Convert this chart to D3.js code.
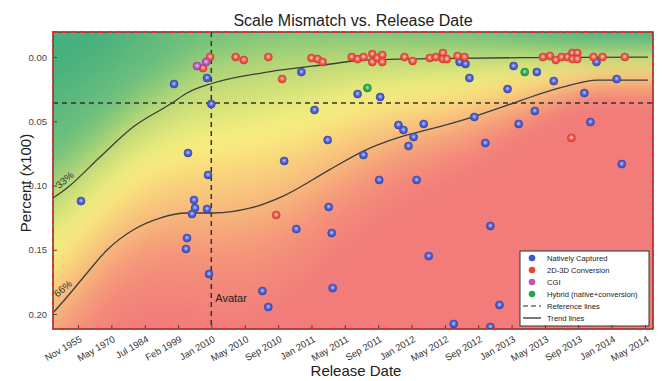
<!DOCTYPE html>
<html>
<head>
<meta charset="utf-8">
<script src="https://cdn.jsdelivr.net/npm/d3@7"></script>
<style>
  body { margin: 0; background: #fff; }
  svg { font-family: "Liberation Sans", Arial, sans-serif; }
</style>
</head>
<body>
<div class="chart"></div>
<script>
// Tick positions (decimal years) and their labels, spaced evenly on the axis
var tickYears = [1955.83, 1970.33, 1984.5, 1999.08, 2010.0, 2010.33, 2010.67, 2011.0, 2011.33,
    2011.67, 2012.0, 2012.33, 2012.67, 2013.0, 2013.33, 2013.67, 2014.0, 2014.33];
var tickLabels = ["Nov 1955", "May 1970", "Jul 1984", "Feb 1999", "Jan 2010", "May 2010", "Sep 2010",
    "Jan 2011", "May 2011", "Sep 2011", "Jan 2012", "May 2012", "Sep 2012", "Jan 2013", "May 2013",
    "Sep 2013", "Jan 2014", "May 2014"];
var yTicks = [0, 0.05, 0.10, 0.15, 0.20];

// Reference lines
var refValue = 0.0358;
var refYear = 2009.96; // Avatar

// Trend lines [year, percent]
var trend33 = [[1944.96, 0.1097], [1951.05, 0.1019], [1965.4, 0.0778], [1979.53, 0.0545],
    [1996.44, 0.0358], [2002.01, 0.0280], [2010.02, 0.0202], [2010.56, 0.0117], [2011.19, 0.0054],
    [2011.52, 0.0023], [2012.19, 0.0012], [2013.19, 0.0004], [2014.36, 0.0]];
var trend66 = [[1944.96, 0.1992], [1951.05, 0.1868], [1959.74, 0.1681], [1968.44, 0.1502],
    [1979.53, 0.1346], [1991.19, 0.1253], [2002.01, 0.1214], [2010.02, 0.1214], [2010.39, 0.1175],
    [2010.72, 0.1082], [2011.19, 0.0872], [2011.52, 0.0732], [2011.86, 0.0630], [2012.19, 0.0560],
    [2012.52, 0.0490], [2013.02, 0.0358], [2013.19, 0.0311], [2013.52, 0.0233], [2013.86, 0.0179],
    [2014.36, 0.0179]];

// Films [release year, scale mismatch]
var natively = [[1957.13, 0.1121], [1997.31, 0.0210], [2008.56, 0.0163], [2009.96, 0.0366],
    [2002.34, 0.0747], [2008.89, 0.0918], [2004.30, 0.1113], [2004.63, 0.1175], [2003.65, 0.1222],
    [2008.56, 0.1183], [2002.01, 0.1409], [2001.68, 0.1494], [2009.21, 0.1689], [2010.51, 0.1821],
    [2010.57, 0.1946], [2010.73, 0.0809], [2010.85, 0.1339], [2010.90, 0.0117], [2011.03, 0.0412],
    [2011.16, 0.0646], [2011.17, 0.1167], [2011.20, 0.1370], [2011.21, 0.1798], [2011.46, 0.0288],
    [2011.52, 0.0763], [2011.68, 0.0957], [2011.69, 0.0311], [2011.87, 0.0529], [2011.92, 0.0568],
    [2011.97, 0.0693], [2012.02, 0.0623], [2012.05, 0.0957], [2012.12, 0.0521], [2012.17, 0.1549],
    [2012.42, 0.2078], [2012.48, 0.0039], [2012.54, 0.0054], [2012.58, 0.0163], [2012.63, 0.0467],
    [2012.74, 0.0669], [2012.79, 0.1315], [2012.79, 0.2101], [2012.88, 0.1930], [2012.96, 0.0249],
    [2013.02, 0.0070], [2013.07, 0.0521], [2013.23, 0.0420], [2013.25, 0.0117], [2013.42, 0.0187],
    [2013.73, 0.0280], [2013.79, 0.0506], [2013.85, 0.0039], [2014.05, 0.0171], [2014.10, 0.0833]];
var conversion = [[2007.25, 0.0086], [2009.54, 0.0], [2010.24, 0.0], [2010.32, 0.0023],
    [2010.57, 0.0], [2010.71, 0.0171], [2011.00, 0.0008], [2011.06, 0.0016], [2011.11, 0.0039],
    [2011.40, 0.0], [2011.46, 0.0016], [2011.52, 0.0], [2011.61, -0.0023], [2011.61, 0.0039],
    [2011.66, 0.0008], [2011.71, -0.0016], [2011.71, 0.0039], [2011.93, 0.0], [2012.01, 0.0031],
    [2012.18, 0.0008], [2012.24, 0.0], [2012.31, -0.0031], [2012.31, 0.0016], [2012.35, 0.0016],
    [2012.46, -0.0008], [2012.53, 0.0], [2013.31, 0.0], [2013.38, -0.0008], [2013.44, 0.0023],
    [2013.50, 0.0], [2013.56, 0.0], [2013.61, -0.0031], [2013.61, 0.0016], [2013.66, -0.0031],
    [2013.66, 0.0016], [2013.82, 0.0], [2013.91, 0.0], [2014.13, 0.0], [2013.60, 0.0630],
    [2010.65, 0.1230]];
var cgi = [[2005.28, 0.0070], [2008.23, 0.0039]];
var hybrid = [[2011.56, 0.0241], [2013.13, 0.0117]];

// SVG area
var svgWidth = 662;
var svgHeight = 381;
var chartMargin = { top: 32, right: 9, bottom: 52, left: 53 };
var width = svgWidth - chartMargin.left - chartMargin.right;
var height = svgHeight - chartMargin.top - chartMargin.bottom;

var svg = d3.select(".chart").append("svg")
    .attr("width", svgWidth)
    .attr("height", svgHeight);
var defs = svg.append("defs");

var chart = svg.append("g")
    .attr("transform", `translate(${chartMargin.left}, ${chartMargin.top})`);

// Ticks are evenly spaced, so the date scale is piecewise linear
var idxScale = d3.scaleLinear().domain([-0.75, 17.24]).range([0, width]);
var xScale = d3.scaleLinear()
    .domain(tickYears)
    .range(tickYears.map(function(d, i) { return idxScale(i); }));
var yScale = d3.scaleLinear().domain([-0.0195, 0.2117]).range([0, height]);

// Background heat map, coloured by position relative to the two trend lines
var px33 = trend33.map(function(d) { return [xScale(d[0]), yScale(d[1])]; });
var px66 = trend66.map(function(d) { return [xScale(d[0]), yScale(d[1])]; });
var y33 = d3.scaleLinear().domain(px33.map(d => d[0])).range(px33.map(d => d[1]));
var y66 = d3.scaleLinear().domain(px66.map(d => d[0])).range(px66.map(d => d[1]));

var heat = d3.scaleLinear()
    .domain([-1.2, -0.35, -0.05, 0.45, 0.85, 1.35, 1.9])
    .range(["#46b07e", "#72c27b", "#b6d776", "#f9f07f", "#f8c67b", "#f4937a", "#f27c7a"])
    .clamp(true);

var cell = 6, pad = 36;
var cells = [];
for (var cx = -pad; cx < width + pad; cx += cell) {
    for (var cy = -pad; cy < height + pad; cy += cell) {
        var mx = cx + cell / 2, my = cy + cell / 2;
        var a = y33(mx), b = y66(mx);
        cells.push({ x: cx, y: cy, s: (my - a) / Math.max(b - a, 1) });
    }
}

defs.append("clipPath").attr("id", "plotClip")
    .append("rect").attr("width", width).attr("height", height);
defs.append("filter").attr("id", "soft")
    .attr("filterUnits", "userSpaceOnUse")
    .attr("x", -pad).attr("y", -pad)
    .attr("width", width + 2 * pad).attr("height", height + 2 * pad)
    .append("feGaussianBlur").attr("stdDeviation", 11);

chart.append("g").attr("clip-path", "url(#plotClip)")
    .append("g").attr("filter", "url(#soft)")
    .selectAll("rect")
    .data(cells)
    .enter()
    .append("rect")
    .attr("x", d => d.x)
    .attr("y", d => d.y)
    .attr("width", cell + 0.5)
    .attr("height", cell + 0.5)
    .attr("fill", d => heat(d.s));

// Reference lines
chart.append("line")
    .attr("x1", 0).attr("x2", width)
    .attr("y1", yScale(refValue)).attr("y2", yScale(refValue))
    .attr("stroke", "#333").attr("stroke-width", 1.5)
    .attr("stroke-dasharray", "5,4");
chart.append("line")
    .attr("x1", xScale(refYear)).attr("x2", xScale(refYear))
    .attr("y1", 0).attr("y2", height)
    .attr("stroke", "#333").attr("stroke-width", 1.5)
    .attr("stroke-dasharray", "5,4");
chart.append("text")
    .attr("x", xScale(refYear) + 4)
    .attr("y", height - 27)
    .style("font-size", "11px")
    .attr("fill", "#222")
    .text("Avatar");

// Trend lines
var line = d3.line()
    .x(d => xScale(d[0]))
    .y(d => yScale(d[1]))
    .curve(d3.curveMonotoneX);
[trend33, trend66].forEach(function(t) {
    chart.append("path")
        .datum(t)
        .attr("d", line)
        .attr("fill", "none")
        .attr("stroke", "#3d3d3d")
        .attr("stroke-width", 1.3);
});

// Trend labels, rotated along the curves
[[y33, "33%", 1951.0, -5.5], [y66, "66%", 1950.2, -8]].forEach(function(l) {
    var lx = xScale(l[2]);
    chart.append("text")
        .attr("transform", `translate(${lx}, ${l[0](lx) + l[3]}) rotate(-40)`)
        .attr("text-anchor", "middle")
        .style("font-size", "10px")
        .attr("fill", "#333")
        .text(l[1]);
});

// Sphere-like markers
var series = [
    { name: "Natively Captured", data: natively, color: "#4455cc", hi: "#c4ccff", mid: "#5d6fe0", edge: "#3442a8" },
    { name: "2D-3D Conversion", data: conversion, color: "#ee4433", hi: "#ffd2c8", mid: "#f06a5a", edge: "#d23a2e" },
    { name: "CGI", data: cgi, color: "#bb55bb", hi: "#f2c0f0", mid: "#c868cc", edge: "#9a3aa0" },
    { name: "Hybrid (native+conversion)", data: hybrid, color: "#22aa44", hi: "#a8f0b8", mid: "#3cb85a", edge: "#1f8a3a" }
];

series.forEach(function(s, i) {
    var g = defs.append("radialGradient").attr("id", "ball" + i)
        .attr("cx", "50%").attr("cy", "45%").attr("r", "55%");
    g.append("stop").attr("offset", "0%").attr("stop-color", s.hi);
    g.append("stop").attr("offset", "45%").attr("stop-color", s.mid);
    g.append("stop").attr("offset", "100%").attr("stop-color", s.edge);
});

var dots = chart.append("g").attr("clip-path", "url(#plotClip)");
series.forEach(function(s, i) {
    dots.selectAll(".dot" + i)
        .data(s.data)
        .enter()
        .append("circle")
        .attr("class", "dot" + i)
        .attr("cx", d => xScale(d[0]))
        .attr("cy", d => yScale(d[1]))
        .attr("r", 4)
        .attr("fill", "url(#ball" + i + ")")
        .attr("stroke", s.edge)
        .attr("stroke-width", 0.6);
});

// Legend
var legend = chart.append("g")
    .attr("transform", `translate(${width - 133}, ${height - 78})`);
legend.append("rect")
    .attr("width", 129).attr("height", 75)
    .attr("fill", "#fff").attr("stroke", "#333").attr("stroke-width", 1);
var items = series.map(s => ({ name: s.name, color: s.color, kind: "dot" }))
    .concat([{ name: "Reference lines", kind: "dash" }, { name: "Trend lines", kind: "line" }]);
items.forEach(function(it, i) {
    var row = legend.append("g").attr("transform", `translate(0, ${7 + i * 12})`);
    if (it.kind === "dot") {
        row.append("circle").attr("cx", 12).attr("cy", 0).attr("r", 3.3).attr("fill", it.color);
    } else {
        row.append("line").attr("x1", 3).attr("x2", 21).attr("y1", 0).attr("y2", 0)
            .attr("stroke", "#222").attr("stroke-width", 1.2)
            .attr("stroke-dasharray", it.kind === "dash" ? "5,3" : null);
    }
    row.append("text")
        .attr("x", 27).attr("y", 2.6)
        .style("font-size", "7.6px")
        .attr("fill", "#222")
        .text(it.name);
});

// Axes
var leftAxis = d3.axisLeft(yScale)
    .tickValues(yTicks)
    .tickFormat(d3.format(".2f"))
    .tickSizeInner(-4).tickSizeOuter(0).tickPadding(6);
var bottomAxis = d3.axisBottom(xScale)
    .tickValues(tickYears)
    .tickFormat(function(d, i) { return tickLabels[i]; })
    .tickSizeInner(-4).tickSizeOuter(0);

var gy = chart.append("g").call(leftAxis);
gy.select(".domain").remove();
gy.selectAll("line").attr("stroke", "#444");
gy.selectAll("text").style("font-size", "9.5px").attr("fill", "#444");

var gx = chart.append("g")
    .attr("transform", `translate(0, ${height})`)
    .call(bottomAxis);
gx.select(".domain").remove();
gx.selectAll("line").attr("stroke", "#444");
gx.selectAll("text")
    .attr("x", 0).attr("y", 0).attr("dy", 0)
    .attr("text-anchor", "end")
    .attr("transform", "translate(4, 12) rotate(-30)")
    .style("font-size", "9.5px")
    .attr("fill", "#333");

// Frame: dark outline with red dashes on top
chart.append("rect")
    .attr("width", width).attr("height", height)
    .attr("fill", "none").attr("stroke", "#444").attr("stroke-width", 1.5);
chart.append("rect")
    .attr("width", width).attr("height", height)
    .attr("fill", "none").attr("stroke", "#e0302a").attr("stroke-width", 2)
    .attr("stroke-dasharray", "5,4");

// Titles
svg.append("text")
    .attr("x", chartMargin.left + width / 2)
    .attr("y", 26)
    .attr("text-anchor", "middle")
    .style("font-size", "16px")
    .attr("fill", "#222")
    .text("Scale Mismatch vs. Release Date");
svg.append("text")
    .attr("x", chartMargin.left + width / 2 + 3)
    .attr("y", 376)
    .attr("text-anchor", "middle")
    .style("font-size", "15px")
    .attr("fill", "#222")
    .text("Release Date");
svg.append("text")
    .attr("transform", "rotate(-90)")
    .attr("x", -183)
    .attr("y", 31)
    .attr("text-anchor", "middle")
    .style("font-size", "15px")
    .attr("fill", "#222")
    .text("Percent (x100)");
</script>
</body>
</html>
